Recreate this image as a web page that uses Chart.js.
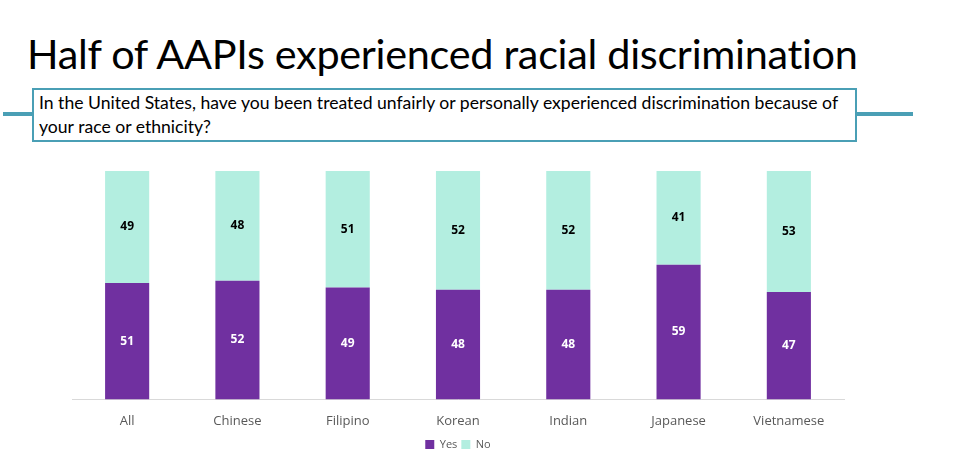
<!DOCTYPE html>
<html>
<head>
<meta charset="utf-8">
<script src="https://cdn.jsdelivr.net/npm/chart.js@4"></script>
<style>
  body { margin: 0; width: 960px; height: 465px; background: #fff; position: relative; overflow: hidden; font-family: Lato, sans-serif; }
  #title { position: absolute; left: 27px; top: 28px; font-size: 41.4px; color: #000; white-space: nowrap; letter-spacing: -0.3px; }
  #rule { position: absolute; left: 3px; top: 112px; width: 910px; height: 4px; background: #4a9fb5; }
  #question { position: absolute; left: 32px; top: 88px; width: 816px; height: 49px; border: 2px solid #4a9fb5; background: #fff;
    font-size: 17.6px; line-height: 24px; padding: 1px 0 0 5px; color: #000; white-space: nowrap; }
  #wrap { position: absolute; left: 60px; top: 164px; width: 800px; height: 300px; }
</style>
</head>
<body>
<div id="title">Half of AAPIs experienced racial discrimination</div>
<div id="rule"></div>
<div id="question">In the United States, have you been treated unfairly or personally experienced discrimination because of<br>your race or ethnicity?</div>
<div id="wrap"><canvas id="chart"></canvas></div>
<script>
const categories = ['All', 'Chinese', 'Filipino', 'Korean', 'Indian', 'Japanese', 'Vietnamese'];
const yesValues = [51, 52, 49, 48, 48, 59, 47];
const noValues = [49, 48, 51, 52, 52, 41, 53];

// draw the value in the middle of each bar segment
const barLabels = {
    id: 'barLabels',
    afterDatasetsDraw(chart) {
        const ctx = chart.ctx;
        ctx.save();
        ctx.font = 'bold 12px "Open Sans", sans-serif';
        ctx.textAlign = 'center';
        ctx.textBaseline = 'middle';
        chart.data.datasets.forEach((ds, i) => {
            ctx.fillStyle = i === 0 ? '#ffffff' : '#000000';
            chart.getDatasetMeta(i).data.forEach((bar, j) => {
                ctx.fillText(ds.data[j], bar.x, (bar.y + bar.base) / 2);
            });
        });
        ctx.restore();
    }
};

new Chart(document.getElementById('chart'), {
    type: 'bar',
    data: {
        labels: categories,
        datasets: [
            { label: 'Yes', data: yesValues, backgroundColor: '#7030a0' },
            { label: 'No', data: noValues, backgroundColor: '#b3eee0' }
        ]
    },
    options: {
        responsive: true,
        maintainAspectRatio: false,
        animation: false,
        layout: { padding: { left: 12, right: 16, top: 7, bottom: 4 } },
        datasets: { bar: { categoryPercentage: 1, barPercentage: 0.4 } },
        scales: {
            x: {
                stacked: true,
                grid: { display: false },
                border: { color: '#d9d9d9', width: 1 },
                ticks: { color: '#595959', font: { family: "'Open Sans', sans-serif", size: 13 }, padding: 6 }
            },
            y: { stacked: true, display: false, min: 0, max: 100 }
        },
        plugins: {
            legend: {
                position: 'bottom',
                labels: { boxWidth: 9, boxHeight: 9, color: '#595959', font: { family: "'Open Sans', sans-serif", size: 11 }, padding: 4 }
            },
            tooltip: { enabled: false }
        }
    },
    plugins: [barLabels]
});
</script>
</body>
</html>
